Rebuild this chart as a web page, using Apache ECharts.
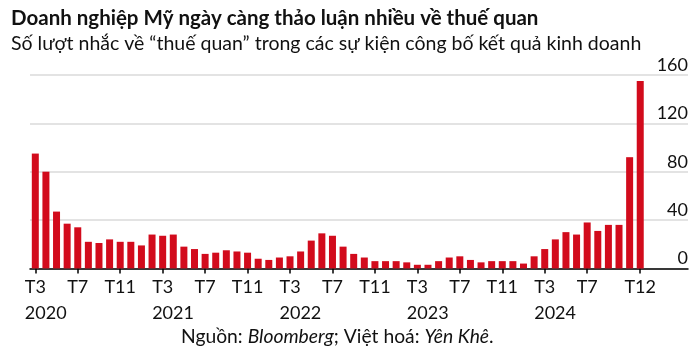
<!DOCTYPE html>
<html>
<head>
<meta charset="utf-8">
<script src="https://cdn.jsdelivr.net/npm/echarts@6/dist/echarts.min.js"></script>
<style>
html,body{margin:0;padding:0;background:#fff;}
#chart{width:700px;height:354px;}
</style>
</head>
<body>
<div id="chart"></div>
<script>
const categories = [
  '2020-03','2020-04','2020-05','2020-06','2020-07','2020-08','2020-09','2020-10','2020-11','2020-12',
  '2021-01','2021-02','2021-03','2021-04','2021-05','2021-06','2021-07','2021-08','2021-09','2021-10','2021-11','2021-12',
  '2022-01','2022-02','2022-03','2022-04','2022-05','2022-06','2022-07','2022-08','2022-09','2022-10','2022-11','2022-12',
  '2023-01','2023-02','2023-03','2023-04','2023-05','2023-06','2023-07','2023-08','2023-09','2023-10','2023-11','2023-12',
  '2024-01','2024-02','2024-03','2024-04','2024-05','2024-06','2024-07','2024-08','2024-09','2024-10','2024-11','2024-12'
];
const mentions = [
  95, 80, 47, 37, 34, 22, 21, 24, 22, 22,
  19, 28, 27, 28, 18, 16, 12, 13, 15, 14, 13, 8,
  7, 9, 10, 14, 23, 29, 27, 18, 12, 9, 6, 6,
  6, 5, 3, 3, 6, 9, 10, 7, 5, 6, 6, 6,
  4, 10, 16, 24, 30, 28, 38, 31, 36, 36, 92, 155
];
const labeledMonths = [
  '2020-03','2020-07','2020-11','2021-03','2021-07','2021-11',
  '2022-03','2022-07','2022-11','2023-03','2023-07','2023-11',
  '2024-03','2024-07','2024-12'
];
const yTicks = [0, 40, 80, 120, 160];

const titleText = 'Doanh nghiệp Mỹ ngày càng thảo luận nhiều về thuế quan';
const subtitleText = 'Số lượt nhắc về “thuế quan” trong các sự kiện công bố kết quả kinh doanh';
const sourceText = 'Nguồn: {i|Bloomberg}; Việt hoá: {i|Yên Khê}.';

const FONT = 'Lato';
const axisCats = categories.concat(['', '', '', '']);

const chart = echarts.init(document.getElementById('chart'), null, {renderer: 'canvas'});
const isLabeled = (idx, val) => labeledMonths.indexOf(val) >= 0;

chart.setOption({
  animation: false,
  backgroundColor: '#fff',
  textStyle: {fontFamily: FONT},
  title: [
    {text: titleText, left: 6, top: 3,
     textStyle: {fontFamily: FONT, fontSize: 20.5, fontWeight: 'bold', color: '#111'}},
    {text: subtitleText, left: 6, top: 29,
     textStyle: {fontFamily: FONT, fontSize: 19.5, fontWeight: 'normal', color: '#111'}},
    {text: sourceText, left: 176, top: 322,
     textStyle: {fontFamily: FONT, fontSize: 19.3, fontWeight: 'normal', color: '#111',
       rich: {i: {fontFamily: FONT, fontSize: 19.3, fontStyle: 'italic', color: '#111'}}}}
  ],
  grid: {left: 30, right: 12, top: 75, bottom: 85.6, containLabel: false},
  xAxis: {
    type: 'category',
    data: axisCats,
    boundaryGap: true,
    axisLine: {show: true, lineStyle: {color: '#000', width: 1.5}},
    axisTick: {show: true, interval: isLabeled, alignWithLabel: true, length: 5,
      lineStyle: {color: '#000', width: 1.5}},
    axisLabel: {
      interval: isLabeled,
      margin: 6,
      color: '#111',
      fontFamily: FONT,
      fontSize: 18,
      lineHeight: 26,
      formatter: function (val) {
        const parts = val.split('-');
        const m = Number(parts[1]);
        if (m === 3) return '{m|T' + m + '}\n{y|' + parts[0] + '}';
        return 'T' + m;
      },
      rich: {
        m: {width: 21, align: 'left', fontFamily: FONT, fontSize: 18, lineHeight: 26, color: '#111'},
        y: {width: 21, align: 'left', fontFamily: FONT, fontSize: 18, lineHeight: 26, color: '#111'}
      }
    },
    splitLine: {show: false}
  },
  yAxis: {
    type: 'value',
    position: 'right',
    min: yTicks[0],
    max: yTicks[yTicks.length - 1],
    interval: 40,
    axisLine: {show: false},
    axisTick: {show: false},
    axisLabel: {
      inside: true, margin: 0, align: 'right', verticalAlign: 'bottom',
      color: '#111', fontFamily: FONT, fontSize: 18, padding: [0, 0, 1, 0]
    },
    splitLine: {show: true, lineStyle: {color: '#dadada', width: 1.5}}
  },
  series: [{
    type: 'bar',
    data: mentions,
    barWidth: 7,
    itemStyle: {color: '#d20b1c'}
  }]
});
</script>
</body>
</html>
